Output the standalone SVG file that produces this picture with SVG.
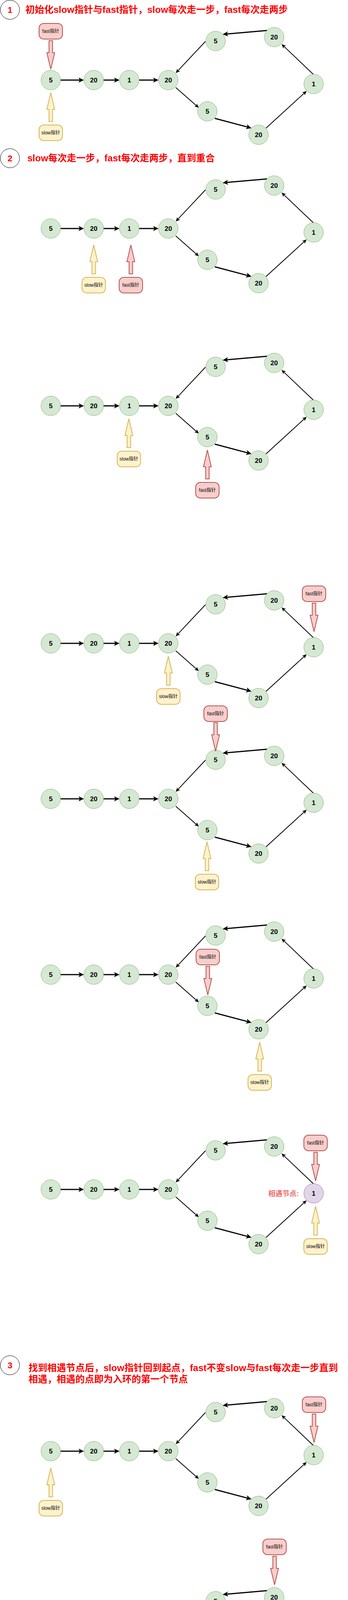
<svg xmlns="http://www.w3.org/2000/svg" xmlns:xlink="http://www.w3.org/1999/xlink" width="891" height="5275" viewBox="0 0 891 5275">
<style>
.node circle{fill:#d5e8d4;stroke:#82b366;stroke-width:1}
.node text{font-family:"Liberation Sans","Noto Sans CJK SC",sans-serif;font-weight:bold;font-size:17px;text-anchor:middle;fill:#000}
.meet circle{fill:#e1d5e7;stroke:#9673a6}
.entry circle{fill:#60a917;stroke:#2d7600}
.entry text{fill:#fff}
.fast rect,.fast use{fill:#f8cecc;stroke:#b85450;stroke-width:2}
.slow rect,.slow use{fill:#fff2cc;stroke:#d6b656;stroke-width:2}
.ptr text{font-family:"Liberation Sans","Noto Sans CJK SC",sans-serif;font-size:12px;text-anchor:middle;fill:#000}
.edges path{fill:none;stroke:#000}
.e3{stroke-width:3;marker-end:url(#ah3)}
.e2{stroke-width:2;marker-end:url(#ah2)}
.hdr circle{fill:#fff;stroke:#000;stroke-width:1}
.hdr .num{font-family:"Liberation Sans",sans-serif;font-size:22px;font-weight:bold;fill:#f00;text-anchor:middle}
.title{font-family:"Liberation Sans","Noto Sans CJK SC",sans-serif;font-size:24px;font-weight:bold;fill:#f00}
.lbl{font-family:"Liberation Sans","Noto Sans CJK SC",sans-serif;font-size:18px;font-weight:bold;fill:#ea6b66}
</style>
<defs>
<marker id="ah3" markerUnits="userSpaceOnUse" viewBox="0 0 14 13" markerWidth="14" markerHeight="13" refX="6" refY="6.5" orient="auto"><path d="M0,0L14,6.5L0,13L3.5,6.5Z" fill="#000"/></marker>
<marker id="ah2" markerUnits="userSpaceOnUse" viewBox="0 0 11 10" markerWidth="11" markerHeight="10" refX="5" refY="5" orient="auto"><path d="M0,0L11,5L0,10L2.8,5Z" fill="#000"/></marker>
<path id="dn" d="M-4.5,0H4.5V31H10L0,73L-10,31H-4.5Z"/>
<path id="up" d="M0,0L10,43H4.5V74H-4.5V43H-10Z"/>
</defs>
<rect x="0" y="0" width="891" height="5275" fill="#fff"/>

<g id="header1" class="hdr"><circle cx="25.5" cy="25" r="24.5"/><text class="num" x="25.5" y="33">1</text><text class="title" x="65" y="33">初始化slow指针与fast指针，slow每次走一步，fast每次走两步</text></g>
<g id="header2" class="hdr"><circle cx="25.5" cy="405" r="24.5"/><text class="num" x="25.5" y="413">2</text><text class="title" x="70" y="413">slow每次走一步，fast每次走两步，直到重合</text></g>
<g id="header3" class="hdr"><circle cx="25.5" cy="3495" r="24.5"/><text class="num" x="25.5" y="3503">3</text><text class="title" x="73" y="3510">找到相遇节点后，slow指针回到起点，fast不变slow与fast每次走一步直到<tspan x="73" y="3539">相遇，相遇的点即为入环的第一个节点</tspan></text></g>

<!-- graph 1 -->
<g id="graph1" transform="translate(0,0)">
<g id="graph1-edges" class="edges"><path class="e3" d="M155,205H207"/><path class="e3" d="M265,205H298"/><path class="e3" d="M356,205H398"/><path class="e2" d="M450,224L504.5,272"/><path class="e3" d="M550,303L636.3,325.9"/><path class="e2" d="M681,328L780.6,237"/><path class="e2" d="M803,191L725.3,117.1"/><path class="e3" d="M684,78L578,87.3"/><path class="e2" d="M526,106L454.1,182.6"/></g>
<g id="graph1-n1" class="node"><circle cx="130" cy="205" r="25"/><text x="130" y="211">5</text></g>
<g id="graph1-n2" class="node"><circle cx="240" cy="205" r="25"/><text x="240" y="211">20</text></g>
<g id="graph1-n3" class="node"><circle cx="331" cy="205" r="25"/><text x="331" y="211">1</text></g>
<g id="graph1-n4" class="node"><circle cx="431" cy="205" r="25"/><text x="431" y="211">20</text></g>
<g id="graph1-n5" class="node"><circle cx="531" cy="285" r="25"/><text x="531" y="291">5</text></g>
<g id="graph1-n6" class="node"><circle cx="662" cy="345" r="25"/><text x="662" y="351">20</text></g>
<g id="graph1-n7" class="node"><circle cx="803" cy="215" r="25"/><text x="803" y="221">1</text></g>
<g id="graph1-n8" class="node"><circle cx="702" cy="95" r="25"/><text x="702" y="101">20</text></g>
<g id="graph1-n9" class="node"><circle cx="552" cy="105" r="25"/><text x="552" y="111">5</text></g>
<g id="graph1-fast" class="ptr fast"><rect x="100" y="60" width="60" height="40" rx="12"/><text x="130" y="84">fast指针</text><use href="#dn" xlink:href="#dn" x="130" y="104"/></g>
<g id="graph1-slow" class="ptr slow"><use href="#up" xlink:href="#up" x="130" y="237"/><rect x="100" y="320" width="60" height="40" rx="12"/><text x="130" y="344">slow指针</text></g>
</g>

<!-- graph 2 -->
<g id="graph2" transform="translate(0,380)">
<g id="graph2-edges" class="edges"><path class="e3" d="M155,205H207"/><path class="e3" d="M265,205H298"/><path class="e3" d="M356,205H398"/><path class="e2" d="M450,224L504.5,272"/><path class="e3" d="M550,303L636.3,325.9"/><path class="e2" d="M681,328L780.6,237"/><path class="e2" d="M803,191L725.3,117.1"/><path class="e3" d="M684,78L578,87.3"/><path class="e2" d="M526,106L454.1,182.6"/></g>
<g id="graph2-n1" class="node"><circle cx="130" cy="205" r="25"/><text x="130" y="211">5</text></g>
<g id="graph2-n2" class="node"><circle cx="240" cy="205" r="25"/><text x="240" y="211">20</text></g>
<g id="graph2-n3" class="node"><circle cx="331" cy="205" r="25"/><text x="331" y="211">1</text></g>
<g id="graph2-n4" class="node"><circle cx="431" cy="205" r="25"/><text x="431" y="211">20</text></g>
<g id="graph2-n5" class="node"><circle cx="531" cy="285" r="25"/><text x="531" y="291">5</text></g>
<g id="graph2-n6" class="node"><circle cx="662" cy="345" r="25"/><text x="662" y="351">20</text></g>
<g id="graph2-n7" class="node"><circle cx="803" cy="215" r="25"/><text x="803" y="221">1</text></g>
<g id="graph2-n8" class="node"><circle cx="702" cy="95" r="25"/><text x="702" y="101">20</text></g>
<g id="graph2-n9" class="node"><circle cx="552" cy="105" r="25"/><text x="552" y="111">5</text></g>
<g id="graph2-slow" class="ptr slow"><use href="#up" xlink:href="#up" x="240" y="247"/><rect x="210" y="330" width="60" height="40" rx="12"/><text x="240" y="354">slow指针</text></g>
<g id="graph2-fast" class="ptr fast"><use href="#up" xlink:href="#up" x="335" y="247"/><rect x="305" y="330" width="60" height="40" rx="12"/><text x="335" y="354">fast指针</text></g>
</g>

<!-- graph 3 -->
<g id="graph3" transform="translate(0,834)">
<g id="graph3-edges" class="edges"><path class="e3" d="M155,205H207"/><path class="e3" d="M265,205H298"/><path class="e3" d="M356,205H398"/><path class="e2" d="M450,224L504.5,272"/><path class="e3" d="M550,303L636.3,325.9"/><path class="e2" d="M681,328L780.6,237"/><path class="e2" d="M803,191L725.3,117.1"/><path class="e3" d="M684,78L578,87.3"/><path class="e2" d="M526,106L454.1,182.6"/></g>
<g id="graph3-n1" class="node"><circle cx="130" cy="205" r="25"/><text x="130" y="211">5</text></g>
<g id="graph3-n2" class="node"><circle cx="240" cy="205" r="25"/><text x="240" y="211">20</text></g>
<g id="graph3-n3" class="node"><circle cx="331" cy="205" r="25"/><text x="331" y="211">1</text></g>
<g id="graph3-n4" class="node"><circle cx="431" cy="205" r="25"/><text x="431" y="211">20</text></g>
<g id="graph3-n5" class="node"><circle cx="531" cy="285" r="25"/><text x="531" y="291">5</text></g>
<g id="graph3-n6" class="node"><circle cx="662" cy="345" r="25"/><text x="662" y="351">20</text></g>
<g id="graph3-n7" class="node"><circle cx="803" cy="215" r="25"/><text x="803" y="221">1</text></g>
<g id="graph3-n8" class="node"><circle cx="702" cy="95" r="25"/><text x="702" y="101">20</text></g>
<g id="graph3-n9" class="node"><circle cx="552" cy="105" r="25"/><text x="552" y="111">5</text></g>
<g id="graph3-slow" class="ptr slow"><use href="#up" xlink:href="#up" x="330" y="238"/><rect x="300" y="321" width="60" height="40" rx="12"/><text x="330" y="345">slow指针</text></g>
<g id="graph3-fast" class="ptr fast"><use href="#up" xlink:href="#up" x="531" y="318"/><rect x="501" y="401" width="60" height="40" rx="12"/><text x="531" y="425">fast指针</text></g>
</g>

<!-- graph 4 -->
<g id="graph4" transform="translate(0,1442)">
<g id="graph4-edges" class="edges"><path class="e3" d="M155,205H207"/><path class="e3" d="M265,205H298"/><path class="e3" d="M356,205H398"/><path class="e2" d="M450,224L504.5,272"/><path class="e3" d="M550,303L636.3,325.9"/><path class="e2" d="M681,328L780.6,237"/><path class="e2" d="M803,191L725.3,117.1"/><path class="e3" d="M684,78L578,87.3"/><path class="e2" d="M526,106L454.1,182.6"/></g>
<g id="graph4-n1" class="node"><circle cx="130" cy="205" r="25"/><text x="130" y="211">5</text></g>
<g id="graph4-n2" class="node"><circle cx="240" cy="205" r="25"/><text x="240" y="211">20</text></g>
<g id="graph4-n3" class="node"><circle cx="331" cy="205" r="25"/><text x="331" y="211">1</text></g>
<g id="graph4-n4" class="node"><circle cx="431" cy="205" r="25"/><text x="431" y="211">20</text></g>
<g id="graph4-n5" class="node"><circle cx="531" cy="285" r="25"/><text x="531" y="291">5</text></g>
<g id="graph4-n6" class="node"><circle cx="662" cy="345" r="25"/><text x="662" y="351">20</text></g>
<g id="graph4-n7" class="node"><circle cx="803" cy="215" r="25"/><text x="803" y="221">1</text></g>
<g id="graph4-n8" class="node"><circle cx="702" cy="95" r="25"/><text x="702" y="101">20</text></g>
<g id="graph4-n9" class="node"><circle cx="552" cy="105" r="25"/><text x="552" y="111">5</text></g>
<g id="graph4-fast" class="ptr fast"><rect x="774" y="58" width="60" height="40" rx="12"/><text x="804" y="82">fast指针</text><use href="#dn" xlink:href="#dn" x="804" y="102"/></g>
<g id="graph4-slow" class="ptr slow"><use href="#up" xlink:href="#up" x="431" y="238"/><rect x="401" y="321" width="60" height="40" rx="12"/><text x="431" y="345">slow指针</text></g>
</g>

<!-- graph 5 -->
<g id="graph5" transform="translate(0,1840)">
<g id="graph5-edges" class="edges"><path class="e3" d="M155,205H207"/><path class="e3" d="M265,205H298"/><path class="e3" d="M356,205H398"/><path class="e2" d="M450,224L504.5,272"/><path class="e3" d="M550,303L636.3,325.9"/><path class="e2" d="M681,328L780.6,237"/><path class="e2" d="M803,191L725.3,117.1"/><path class="e3" d="M684,78L578,87.3"/><path class="e2" d="M526,106L454.1,182.6"/></g>
<g id="graph5-n1" class="node"><circle cx="130" cy="205" r="25"/><text x="130" y="211">5</text></g>
<g id="graph5-n2" class="node"><circle cx="240" cy="205" r="25"/><text x="240" y="211">20</text></g>
<g id="graph5-n3" class="node"><circle cx="331" cy="205" r="25"/><text x="331" y="211">1</text></g>
<g id="graph5-n4" class="node"><circle cx="431" cy="205" r="25"/><text x="431" y="211">20</text></g>
<g id="graph5-n5" class="node"><circle cx="531" cy="285" r="25"/><text x="531" y="291">5</text></g>
<g id="graph5-n6" class="node"><circle cx="662" cy="345" r="25"/><text x="662" y="351">20</text></g>
<g id="graph5-n7" class="node"><circle cx="803" cy="215" r="25"/><text x="803" y="221">1</text></g>
<g id="graph5-n8" class="node"><circle cx="702" cy="95" r="25"/><text x="702" y="101">20</text></g>
<g id="graph5-n9" class="node"><circle cx="552" cy="105" r="25"/><text x="552" y="111">5</text></g>
<g id="graph5-fast" class="ptr fast"><rect x="522" y="-33" width="60" height="40" rx="12"/><text x="552" y="-9">fast指针</text><use href="#dn" xlink:href="#dn" x="552" y="10"/></g>
<g id="graph5-slow" class="ptr slow"><use href="#up" xlink:href="#up" x="530" y="315"/><rect x="500" y="398" width="60" height="40" rx="12"/><text x="530" y="422">slow指针</text></g>
</g>

<!-- graph 6 -->
<g id="graph6" transform="translate(0,2290)">
<g id="graph6-edges" class="edges"><path class="e3" d="M155,205H207"/><path class="e3" d="M265,205H298"/><path class="e3" d="M356,205H398"/><path class="e2" d="M450,224L504.5,272"/><path class="e3" d="M550,303L636.3,325.9"/><path class="e2" d="M681,328L780.6,237"/><path class="e2" d="M803,191L725.3,117.1"/><path class="e3" d="M684,78L578,87.3"/><path class="e2" d="M526,106L454.1,182.6"/></g>
<g id="graph6-n1" class="node"><circle cx="130" cy="205" r="25"/><text x="130" y="211">5</text></g>
<g id="graph6-n2" class="node"><circle cx="240" cy="205" r="25"/><text x="240" y="211">20</text></g>
<g id="graph6-n3" class="node"><circle cx="331" cy="205" r="25"/><text x="331" y="211">1</text></g>
<g id="graph6-n4" class="node"><circle cx="431" cy="205" r="25"/><text x="431" y="211">20</text></g>
<g id="graph6-n5" class="node"><circle cx="531" cy="285" r="25"/><text x="531" y="291">5</text></g>
<g id="graph6-n6" class="node"><circle cx="662" cy="345" r="25"/><text x="662" y="351">20</text></g>
<g id="graph6-n7" class="node"><circle cx="803" cy="215" r="25"/><text x="803" y="221">1</text></g>
<g id="graph6-n8" class="node"><circle cx="702" cy="95" r="25"/><text x="702" y="101">20</text></g>
<g id="graph6-n9" class="node"><circle cx="552" cy="105" r="25"/><text x="552" y="111">5</text></g>
<g id="graph6-fast" class="ptr fast"><rect x="502" y="140" width="60" height="40" rx="12"/><text x="532" y="164">fast指针</text><use href="#dn" xlink:href="#dn" x="532" y="184"/></g>
<g id="graph6-slow" class="ptr slow"><use href="#up" xlink:href="#up" x="665" y="378"/><rect x="635" y="461" width="60" height="40" rx="12"/><text x="665" y="485">slow指针</text></g>
</g>

<!-- graph 7 -->
<g id="graph7" transform="translate(0,2840)">
<g id="graph7-edges" class="edges"><path class="e3" d="M155,205H207"/><path class="e3" d="M265,205H298"/><path class="e3" d="M356,205H398"/><path class="e2" d="M450,224L504.5,272"/><path class="e3" d="M550,303L636.3,325.9"/><path class="e2" d="M681,328L780.6,237"/><path class="e2" d="M803,191L725.3,117.1"/><path class="e3" d="M684,78L578,87.3"/><path class="e2" d="M526,106L454.1,182.6"/></g>
<g id="graph7-n1" class="node"><circle cx="130" cy="205" r="25"/><text x="130" y="211">5</text></g>
<g id="graph7-n2" class="node"><circle cx="240" cy="205" r="25"/><text x="240" y="211">20</text></g>
<g id="graph7-n3" class="node"><circle cx="331" cy="205" r="25"/><text x="331" y="211">1</text></g>
<g id="graph7-n4" class="node"><circle cx="431" cy="205" r="25"/><text x="431" y="211">20</text></g>
<g id="graph7-n5" class="node"><circle cx="531" cy="285" r="25"/><text x="531" y="291">5</text></g>
<g id="graph7-n6" class="node"><circle cx="662" cy="345" r="25"/><text x="662" y="351">20</text></g>
<g id="graph7-n7" class="node meet"><circle cx="803" cy="215" r="25"/><text x="803" y="221">1</text></g>
<g id="graph7-n8" class="node"><circle cx="702" cy="95" r="25"/><text x="702" y="101">20</text></g>
<g id="graph7-n9" class="node"><circle cx="552" cy="105" r="25"/><text x="552" y="111">5</text></g>
<text id="graph7-label" class="lbl" x="687" y="222">相遇节点:</text>
<g id="graph7-fast" class="ptr fast"><rect x="778" y="66" width="60" height="40" rx="12"/><text x="808" y="90">fast指针</text><use href="#dn" xlink:href="#dn" x="808" y="110"/></g>
<g id="graph7-slow" class="ptr slow"><use href="#up" xlink:href="#up" x="808" y="248"/><rect x="778" y="331" width="60" height="40" rx="12"/><text x="808" y="355">slow指针</text></g>
</g>

<!-- graph 8 -->
<g id="graph8" transform="translate(0,3510)">
<g id="graph8-edges" class="edges"><path class="e3" d="M155,205H207"/><path class="e3" d="M265,205H298"/><path class="e3" d="M356,205H398"/><path class="e2" d="M450,224L504.5,272"/><path class="e3" d="M550,303L636.3,325.9"/><path class="e2" d="M681,328L780.6,237"/><path class="e2" d="M803,191L725.3,117.1"/><path class="e3" d="M684,78L578,87.3"/><path class="e2" d="M526,106L454.1,182.6"/></g>
<g id="graph8-n1" class="node"><circle cx="130" cy="205" r="25"/><text x="130" y="211">5</text></g>
<g id="graph8-n2" class="node"><circle cx="240" cy="205" r="25"/><text x="240" y="211">20</text></g>
<g id="graph8-n3" class="node"><circle cx="331" cy="205" r="25"/><text x="331" y="211">1</text></g>
<g id="graph8-n4" class="node"><circle cx="431" cy="205" r="25"/><text x="431" y="211">20</text></g>
<g id="graph8-n5" class="node"><circle cx="531" cy="285" r="25"/><text x="531" y="291">5</text></g>
<g id="graph8-n6" class="node"><circle cx="662" cy="345" r="25"/><text x="662" y="351">20</text></g>
<g id="graph8-n7" class="node"><circle cx="803" cy="215" r="25"/><text x="803" y="221">1</text></g>
<g id="graph8-n8" class="node"><circle cx="702" cy="95" r="25"/><text x="702" y="101">20</text></g>
<g id="graph8-n9" class="node"><circle cx="552" cy="105" r="25"/><text x="552" y="111">5</text></g>
<g id="graph8-fast" class="ptr fast"><rect x="774" y="66" width="60" height="40" rx="12"/><text x="804" y="90">fast指针</text><use href="#dn" xlink:href="#dn" x="804" y="110"/></g>
<g id="graph8-slow" class="ptr slow"><use href="#up" xlink:href="#up" x="130" y="248"/><rect x="100" y="331" width="60" height="40" rx="12"/><text x="130" y="355">slow指针</text></g>
</g>

<!-- graph 9 -->
<g id="graph9" transform="translate(0,3994)">
<g id="graph9-edges" class="edges"><path class="e3" d="M155,205H207"/><path class="e3" d="M265,205H298"/><path class="e3" d="M356,205H398"/><path class="e2" d="M450,224L504.5,272"/><path class="e3" d="M550,303L636.3,325.9"/><path class="e2" d="M681,328L780.6,237"/><path class="e2" d="M803,191L725.3,117.1"/><path class="e3" d="M684,78L578,87.3"/><path class="e2" d="M526,106L454.1,182.6"/></g>
<g id="graph9-n1" class="node"><circle cx="130" cy="205" r="25"/><text x="130" y="211">5</text></g>
<g id="graph9-n2" class="node"><circle cx="240" cy="205" r="25"/><text x="240" y="211">20</text></g>
<g id="graph9-n3" class="node"><circle cx="331" cy="205" r="25"/><text x="331" y="211">1</text></g>
<g id="graph9-n4" class="node"><circle cx="431" cy="205" r="25"/><text x="431" y="211">20</text></g>
<g id="graph9-n5" class="node"><circle cx="531" cy="285" r="25"/><text x="531" y="291">5</text></g>
<g id="graph9-n6" class="node"><circle cx="662" cy="345" r="25"/><text x="662" y="351">20</text></g>
<g id="graph9-n7" class="node"><circle cx="803" cy="215" r="25"/><text x="803" y="221">1</text></g>
<g id="graph9-n8" class="node"><circle cx="702" cy="95" r="25"/><text x="702" y="101">20</text></g>
<g id="graph9-n9" class="node"><circle cx="552" cy="105" r="25"/><text x="552" y="111">5</text></g>
<g id="graph9-fast" class="ptr fast"><rect x="673" y="-54" width="60" height="40" rx="12"/><text x="703" y="-30">fast指针</text><use href="#dn" xlink:href="#dn" x="703" y="-10"/></g>
<g id="graph9-slow" class="ptr slow"><use href="#up" xlink:href="#up" x="245" y="239"/><rect x="215" y="322" width="60" height="40" rx="12"/><text x="245" y="346">slow指针</text></g>
</g>

<!-- graph 10 -->
<g id="graph10" transform="translate(0,4454)">
<g id="graph10-edges" class="edges"><path class="e3" d="M155,205H207"/><path class="e3" d="M265,205H298"/><path class="e3" d="M356,205H398"/><path class="e2" d="M450,224L504.5,272"/><path class="e3" d="M550,303L636.3,325.9"/><path class="e2" d="M681,328L780.6,237"/><path class="e2" d="M803,191L725.3,117.1"/><path class="e3" d="M684,78L578,87.3"/><path class="e2" d="M526,106L454.1,182.6"/></g>
<g id="graph10-n1" class="node"><circle cx="130" cy="205" r="25"/><text x="130" y="211">5</text></g>
<g id="graph10-n2" class="node"><circle cx="240" cy="205" r="25"/><text x="240" y="211">20</text></g>
<g id="graph10-n3" class="node"><circle cx="331" cy="205" r="25"/><text x="331" y="211">1</text></g>
<g id="graph10-n4" class="node"><circle cx="431" cy="205" r="25"/><text x="431" y="211">20</text></g>
<g id="graph10-n5" class="node"><circle cx="531" cy="285" r="25"/><text x="531" y="291">5</text></g>
<g id="graph10-n6" class="node"><circle cx="662" cy="345" r="25"/><text x="662" y="351">20</text></g>
<g id="graph10-n7" class="node"><circle cx="803" cy="215" r="25"/><text x="803" y="221">1</text></g>
<g id="graph10-n8" class="node"><circle cx="702" cy="95" r="25"/><text x="702" y="101">20</text></g>
<g id="graph10-n9" class="node"><circle cx="552" cy="105" r="25"/><text x="552" y="111">5</text></g>
<g id="graph10-fast" class="ptr fast"><rect x="522" y="-44" width="60" height="40" rx="12"/><text x="552" y="-20">fast指针</text><use href="#dn" xlink:href="#dn" x="552" y="0"/></g>
<g id="graph10-slow" class="ptr slow"><use href="#up" xlink:href="#up" x="330" y="248"/><rect x="300" y="331" width="60" height="40" rx="12"/><text x="330" y="355">slow指针</text></g>
</g>

<!-- graph 11 -->
<g id="graph11" transform="translate(0,4904)">
<g id="graph11-edges" class="edges"><path class="e3" d="M155,205H207"/><path class="e3" d="M265,205H298"/><path class="e3" d="M356,205H398"/><path class="e2" d="M450,224L504.5,272"/><path class="e3" d="M550,303L636.3,325.9"/><path class="e2" d="M681,328L780.6,237"/><path class="e2" d="M803,191L725.3,117.1"/><path class="e3" d="M684,78L578,87.3"/><path class="e2" d="M526,106L454.1,182.6"/></g>
<g id="graph11-n1" class="node"><circle cx="130" cy="205" r="25"/><text x="130" y="211">5</text></g>
<g id="graph11-n2" class="node"><circle cx="240" cy="205" r="25"/><text x="240" y="211">20</text></g>
<g id="graph11-n3" class="node"><circle cx="331" cy="205" r="25"/><text x="331" y="211">1</text></g>
<g id="graph11-n4" class="node entry"><circle cx="431" cy="205" r="25"/><text x="431" y="211">20</text></g>
<g id="graph11-n5" class="node"><circle cx="531" cy="285" r="25"/><text x="531" y="291">5</text></g>
<g id="graph11-n6" class="node"><circle cx="662" cy="345" r="25"/><text x="662" y="351">20</text></g>
<g id="graph11-n7" class="node"><circle cx="803" cy="215" r="25"/><text x="803" y="221">1</text></g>
<g id="graph11-n8" class="node"><circle cx="702" cy="95" r="25"/><text x="702" y="101">20</text></g>
<g id="graph11-n9" class="node"><circle cx="552" cy="105" r="25"/><text x="552" y="111">5</text></g>
<text id="graph11-label" class="lbl" x="233" y="257">找到入环第一个节点:</text>
<g id="graph11-fast" class="ptr fast"><rect x="402" y="56" width="60" height="40" rx="12"/><text x="432" y="80">fast指针</text><use href="#dn" xlink:href="#dn" x="432" y="100"/></g>
<g id="graph11-slow" class="ptr slow"><use href="#up" xlink:href="#up" x="430" y="237"/><rect x="400" y="320" width="60" height="40" rx="12"/><text x="430" y="344">slow指针</text></g>
</g>
</svg>
